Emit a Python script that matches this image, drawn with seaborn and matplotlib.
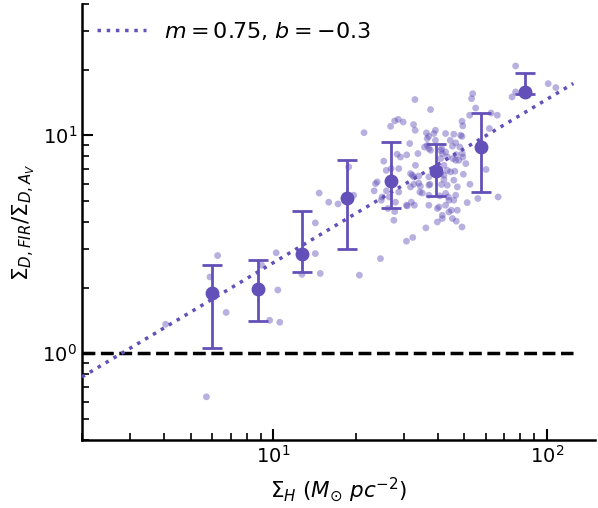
import numpy as np
import pandas as pd
import seaborn as sns
import matplotlib
matplotlib.use('Agg')
import matplotlib.pyplot as plt

# log10 values of the individual points
log_sigma_h = [1.886, 2.005, 2.033, 1.873, 1.886, 1.729, 1.725, 1.518, 1.575, 1.740,
               1.718, 1.796, 1.819, 1.457, 1.444, 1.513, 1.429, 1.690, 1.693, 1.790,
               1.332, 1.519, 1.560, 1.568, 1.593, 1.630, 1.660, 1.690, 1.647, 1.667,
               1.499, 1.563, 1.553, 1.569, 1.616, 1.655, 1.682, 1.453, 1.488, 1.529,
               1.618, 1.637, 1.657, 1.669, 1.693, 1.704, 1.404, 1.431, 1.459, 1.502,
               1.514, 1.532, 1.569, 1.612, 1.636, 1.664, 1.695, 1.778, 1.380, 1.374,
               1.413, 1.369, 1.414, 1.424, 1.459, 1.502, 1.514, 1.532, 1.536, 1.545,
               1.569, 1.615, 1.624, 1.660, 1.673, 1.719, 1.569, 1.609, 1.640, 1.660,
               1.398, 1.395, 1.447, 1.444, 1.490, 1.505, 1.569, 1.600, 1.630, 1.651,
               1.673, 1.709, 1.748, 1.822, 1.441, 1.600, 1.618, 1.655, 1.669, 1.690,
               1.558, 1.487, 1.510, 1.392, 1.168, 1.203, 1.237, 1.154, 1.294, 1.276,
               0.797, 0.769, 0.828, 0.756, 1.011, 0.958, 1.017, 0.987, 1.024, 0.607,
               1.154, 1.172, 1.105, 1.315, 1.419, 1.475, 1.587, 1.563, 1.593, 1.685,
               1.575, 1.612, 1.630, 1.612, 1.667, 1.679, 1.691, 1.465, 1.520, 1.624,
               1.648, 1.508, 1.624, 1.538, 1.573, 1.636, 1.630, 1.667, 1.487, 1.516,
               1.606, 1.642, 1.642, 1.618]
log_ratio = [1.318, 1.237, 1.219, 1.176, 1.199, 1.191, 1.168, 1.164, 1.118, 1.125,
             1.092, 1.102, 1.092, 1.073, 1.066, 1.049, 1.041, 1.064, 1.043, 1.031,
             1.012, 1.023, 1.011, 0.995, 1.023, 1.008, 1.005, 0.995, 0.977, 0.965,
             0.962, 0.954, 0.946, 0.939, 0.939, 0.950, 0.946, 0.913, 0.910, 0.916,
             0.916, 0.900, 0.893, 0.911, 0.900, 0.870, 0.881, 0.847, 0.847, 0.824,
             0.809, 0.813, 0.809, 0.824, 0.839, 0.835, 0.821, 0.843, 0.786, 0.778,
             0.839, 0.745, 0.745, 0.717, 0.740, 0.763, 0.775, 0.781, 0.739, 0.735,
             0.771, 0.774, 0.797, 0.794, 0.763, 0.775, 0.725, 0.722, 0.717, 0.702,
             0.717, 0.702, 0.693, 0.650, 0.676, 0.693, 0.679, 0.664, 0.679, 0.656,
             0.656, 0.691, 0.710, 0.717, 0.610, 0.602, 0.618, 0.618, 0.606, 0.579,
             0.575, 0.514, 0.531, 0.434, 0.735, 0.693, 0.685, 0.598, 0.725, 0.855,
             0.448, 0.350, 0.187, -0.200, 0.461, 0.404, 0.290, 0.151, 0.142, 0.133,
             0.457, 0.366, 0.362, 0.358, 0.664, 1.061, 1.008, 0.985, 0.977, 1.000,
             0.931, 0.931, 0.923, 0.893, 0.885, 0.885, 0.916, 0.900, 0.862, 0.862,
             0.832, 0.817, 0.817, 0.766, 0.775, 0.771, 0.733, 0.725, 0.679, 0.679,
             0.671, 0.702, 0.648, 0.633]

# binned means with their spread
bin_sigma_h = [5.98, 8.81, 12.7, 18.6, 27.0, 39.2, 57.3, 83.0]
bin_ratio = [1.89, 1.97, 2.84, 5.15, 6.15, 6.84, 8.83, 15.8]
bin_low = [1.06, 1.41, 2.36, 3.02, 4.66, 5.27, 5.52, 15.5]
bin_high = [2.55, 2.69, 4.48, 7.74, 9.27, 9.10, 12.6, 19.4]

slope, intercept = 0.75, -0.335
fit_range = [2.0, 125.0]

color = '#6350b8'

sns.set_style('ticks')
plt.rcParams['font.family'] = ['DejaVu Sans']
plt.rcParams['text.color'] = 'black'
plt.rcParams['axes.labelcolor'] = 'black'
plt.rcParams['axes.edgecolor'] = 'black'
plt.rcParams['xtick.color'] = 'black'
plt.rcParams['ytick.color'] = 'black'

fig = plt.figure(figsize=(5.98, 5.08), dpi=100)
ax = fig.add_axes([0.137, 0.134, 0.858, 0.858])

points = pd.DataFrame({'x': 10 ** np.array(log_sigma_h), 'y': 10 ** np.array(log_ratio)})
sns.scatterplot(data=points, x='x', y='y', ax=ax, color=color, alpha=0.45,
                s=24, edgecolor='none', zorder=2)

xs = np.logspace(np.log10(fit_range[0]), np.log10(fit_range[1]), 50)
fit = pd.DataFrame({'x': xs, 'y': 10 ** (slope * np.log10(xs) + intercept)})
sns.lineplot(data=fit, x='x', y='y', ax=ax, color=color, lw=2.5, ls=':',
             label=f'$m = {slope:.2f}$, $b = {intercept:.1f}$', zorder=3)

ax.plot(fit_range, [1, 1], color='black', lw=2.5, ls='--', zorder=1)

bin_ratio = np.array(bin_ratio)
yerr = [bin_ratio - np.array(bin_low), np.array(bin_high) - bin_ratio]
ax.errorbar(bin_sigma_h, bin_ratio, yerr=yerr, fmt='o', color=color, ms=9,
            elinewidth=2, capsize=7, capthick=2, zorder=4)

ax.set_xscale('log')
ax.set_yscale('log')
ax.set_xlim(2.0, 150)
ax.set_ylim(0.4, 40)

ax.set_xlabel(r'$\Sigma_H$ ($M_{\odot}$ $pc^{-2}$)', fontsize=15.5, labelpad=6)
ax.set_ylabel(r'$\Sigma_{D,FIR}/\Sigma_{D,A_V}$', fontsize=15.5)

ax.tick_params(which='major', direction='in', length=8, width=1.5, labelsize=14)
ax.tick_params(which='minor', direction='in', length=5, width=1.2)
for side in ['left', 'bottom']:
    ax.spines[side].set_linewidth(1.8)
sns.despine(ax=ax)

ax.legend(loc='upper left', frameon=False, fontsize=16, handlelength=2.2,
          borderaxespad=0.3)

fig.savefig('out.png', dpi=100)
